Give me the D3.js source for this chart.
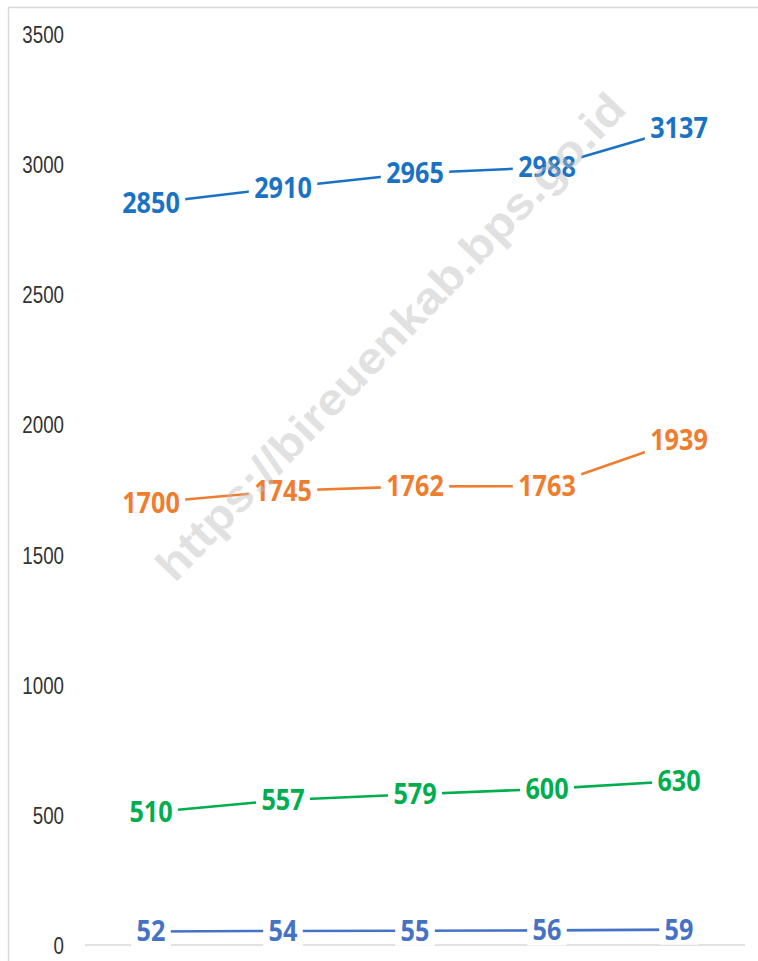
<!DOCTYPE html>
<html>
<head>
<meta charset="utf-8">
<script src="https://cdn.jsdelivr.net/npm/d3@7"></script>
<style>
  html, body { margin: 0; padding: 0; background: #fff; }
  svg { display: block; }
</style>
</head>
<body>
<div class="content"></div>
<script>
// data
var categories = ['1', '2', '3', '4', '5'];
var seriesA = [2850, 2910, 2965, 2988, 3137];
var seriesB = [1700, 1745, 1762, 1763, 1939];
var seriesC = [510, 557, 579, 600, 630];
var seriesD = [52, 54, 55, 56, 59];
var yTicks = [0, 500, 1000, 1500, 2000, 2500, 3000, 3500];
var watermarkText = 'https://bireuenkab.bps.go.id';

var chart = {
    width: 758,
    height: 961,
    left: 85,
    right: 745,
    top: 34,
    bottom: 945,
    axisColor: '#d9d9d9',
    labelFont: '"Open Sans", "Liberation Sans", sans-serif',
    series: [
        { values: seriesA, color: '#1a72c4' },
        { values: seriesB, color: '#ef7d2f' },
        { values: seriesC, color: '#00ae4f' },
        { values: seriesD, color: '#4672c6' }
    ]
};

window.onload = function() {
    drawChart();
};

function drawChart() {
    var svg = d3.select('.content').append('svg')
        .attr('width', chart.width)
        .attr('height', chart.height);

    // outer chart frame
    svg.append('rect')
        .attr('x', 8.5)
        .attr('y', 7.5)
        .attr('width', chart.width + 20)
        .attr('height', chart.height + 20)
        .style('fill', '#fff')
        .style('stroke', '#d9d9d9')
        .style('stroke-width', 1.5);

    var x = d3.scaleBand()
        .domain(categories)
        .range([chart.left, chart.right]);
    var y = d3.scaleLinear()
        .domain([0, 3500])
        .range([chart.bottom, chart.top]);
    var cx = function(i) { return x(categories[i]) + x.bandwidth() / 2; };

    // y tick labels
    var yAxis = d3.axisLeft(y).tickValues(yTicks).tickFormat(d3.format('d')).tickSize(0).tickPadding(0);
    var ga = svg.append('g').attr('transform', 'translate(64,0)').call(yAxis);
    ga.select('.domain').remove();
    ga.selectAll('text')
        .attr('x', 0)
        .attr('dy', null)
        .attr('transform', function(d) { return 'translate(0,' + (y(d) + 8.5) + ') scale(0.78,1) translate(0,' + (-y(d)) + ')'; })
        .style('font-family', '"Liberation Sans", Arial, sans-serif')
        .style('font-size', '24px')
        .style('fill', '#333');

    // horizontal category axis
    svg.append('line')
        .attr('x1', chart.left)
        .attr('x2', chart.right)
        .attr('y1', y(0))
        .attr('y2', y(0))
        .style('stroke', chart.axisColor)
        .style('stroke-width', 1.5);

    var line = d3.line()
        .x(function(d, i) { return cx(i); })
        .y(function(d) { return y(d); });

    chart.series.forEach(function(s) {
        svg.append('path')
            .datum(s.values)
            .attr('d', line)
            .style('fill', 'none')
            .style('stroke', s.color)
            .style('stroke-width', 2.6);
    });

    // data labels with white boxes that break the lines
    chart.series.forEach(function(s) {
        var g = svg.append('g').selectAll('g')
            .data(s.values)
            .join('g')
            .attr('transform', function(d, i) { return 'translate(' + cx(i) + ',' + y(d) + ') scale(0.9,1)'; });
        var rects = g.append('rect').style('fill', '#fff');
        var texts = g.append('text')
            .attr('text-anchor', 'middle')
            .attr('y', 10)
            .style('font-family', chart.labelFont)
            .style('font-weight', 700)
            .style('font-size', '28px')
            .style('fill', s.color)
            .text(function(d) { return d; });
        texts.each(function() {
            var w = this.getComputedTextLength();
            d3.select(this.previousSibling)
                .attr('x', -w / 2 - 6)
                .attr('width', w + 12)
                .attr('y', -15)
                .attr('height', 30);
        });
    });

    // watermark
    svg.append('text')
        .attr('transform', 'translate(390,336) rotate(-46.2)')
        .attr('text-anchor', 'middle')
        .attr('y', 16)
        .attr('textLength', 655)
        .attr('lengthAdjust', 'spacingAndGlyphs')
        .style('font-family', '"Liberation Sans", Arial, sans-serif')
        .style('font-weight', 700)
        .style('font-size', '44px')
        .style('fill', '#bdbdbd')
        .style('opacity', 0.45)
        .text(watermarkText);
}
</script>
</body>
</html>
